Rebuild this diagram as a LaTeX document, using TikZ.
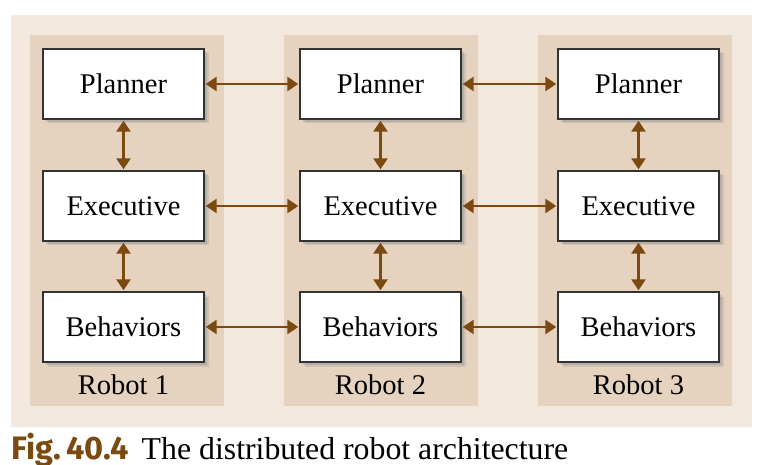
\documentclass[tikz,border=0pt]{standalone}
\usepackage{fontspec}
\setmainfont{Liberation Serif}
\newfontfamily\boxserif{Liberation Serif}
\newfontfamily\capsans{Fira Sans}
\usetikzlibrary{arrows.meta}
\definecolor{outerbg}{HTML}{F3E8DE}
\definecolor{panelbg}{HTML}{E5D3BF}
\definecolor{arrowc}{HTML}{7A4A10}
\definecolor{boxline}{HTML}{333333}
\tikzset{
  unitbox/.style={draw=boxline, line width=1.4pt, fill=white, minimum width=161pt, minimum height=70pt, inner sep=0pt, font=\boxserif\fontsize{28.5}{32}\selectfont},
  shadowbox/.style={fill=black!45, minimum width=161pt, minimum height=70pt, inner sep=0pt},
  link/.style={draw=arrowc, line width=2.5pt, {Triangle[length=11pt,width=14pt]}-{Triangle[length=11pt,width=14pt]}, shorten <=1pt, shorten >=1pt},
  robotlabel/.style={font=\boxserif\fontsize{28.5}{32}\selectfont, inner sep=0pt}
}
\begin{document}
\begin{tikzpicture}[x=1pt,y=-1pt]
\useasboundingbox (0,0) rectangle (774,465);
\fill[white] (0,0) rectangle (774,465);
\fill[outerbg] (11,15) rectangle (752,427);
\foreach \xl in {30,284,538}{
  \fill[panelbg] (\xl,35) rectangle ({\xl+194},406);
}
% shadows
\foreach \cx in {123.5,380.5,638.5}{
  \foreach \cy in {84,206,327}{
    \node[shadowbox, opacity=0.35] at ({\cx+3},{\cy+3}) {};
    \node[shadowbox, opacity=0.25] at ({\cx+4.5},{\cy+4.5}) {};
  }
}
\node[unitbox] (p1) at (123.5,84) {Planner};
\node[unitbox] (e1) at (123.5,206) {Executive};
\node[unitbox] (b1) at (123.5,327) {Behaviors};
\node[unitbox] (p2) at (380.5,84) {Planner};
\node[unitbox] (e2) at (380.5,206) {Executive};
\node[unitbox] (b2) at (380.5,327) {Behaviors};
\node[unitbox] (p3) at (638.5,84) {Planner};
\node[unitbox] (e3) at (638.5,206) {Executive};
\node[unitbox] (b3) at (638.5,327) {Behaviors};
\node[robotlabel] (r1) at (123.5,385) {Robot 1};
\node[robotlabel] (r2) at (380.5,385) {Robot 2};
\node[robotlabel] (r3) at (638.5,385) {Robot 3};
\foreach \i in {1,2,3}{
  \draw[link] (p\i) -- (e\i);
  \draw[link] (e\i) -- (b\i);
}
\foreach \a/\b in {1/2,2/3}{
  \draw[link] (p\a) -- (p\b);
  \draw[link] (e\a) -- (e\b);
  \draw[link] (b\a) -- (b\b);
}
\node[anchor=base west, inner sep=0pt, font=\boxserif\fontsize{31.8}{34}\selectfont] (cap) at (11,459)
  {{\capsans\bfseries\fontsize{32.5}{34}\selectfont\color{arrowc}Fig.\,40.4}\hspace{13pt}The distributed robot architecture};
\end{tikzpicture}
\end{document}
